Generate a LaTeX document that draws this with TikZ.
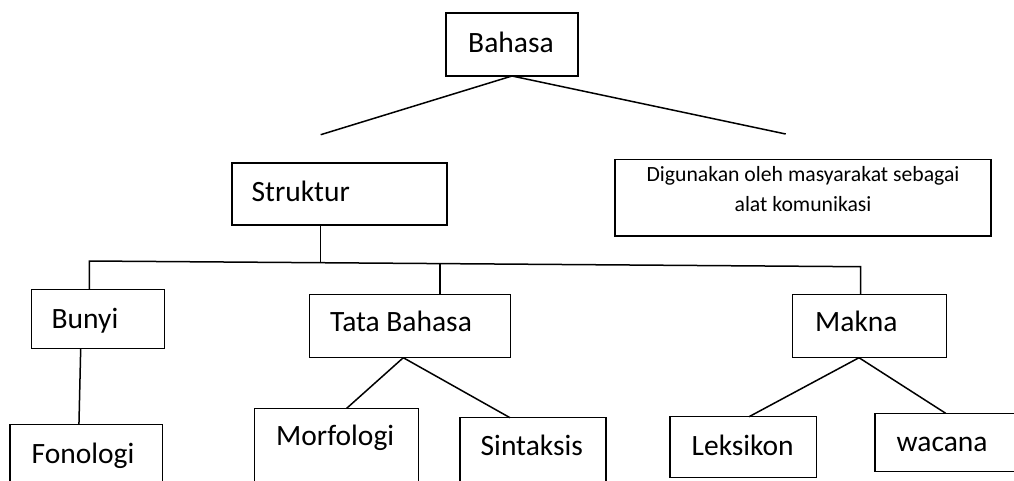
\documentclass[tikz,border=0pt]{standalone}
\usepackage{fontspec}
\setmainfont{Carlito}
\begin{document}
\begin{tikzpicture}[x=1pt,y=-1pt,
  box/.style={draw=black, line width=1.5pt, rectangle, anchor=north west, inner sep=0pt, outer sep=0pt},
  lbl/.style={anchor=base west, inner sep=0pt, font=\fontsize{29.5}{35}\selectfont},
  small/.style={anchor=base, inner sep=0pt, font=\fontsize{21.7}{26}\selectfont},
  conn/.style={line width=1.5pt}]
\useasboundingbox (0,0) rectangle (1014,480);
\clip (0,0) rectangle (1014,480);
% boxes
\node[box, minimum width=132pt, minimum height=63pt] (bahasa) at (446,13) {};
\node[box, minimum width=215pt, minimum height=62pt] (struktur) at (232,163) {};
\node[box, minimum width=376pt, minimum height=76.5pt] (digunakan) at (615,159.5) {};
\node[box, minimum width=132.6pt, minimum height=59pt] (bunyi) at (31.7,289.3) {};
\node[box, minimum width=152.3pt, minimum height=80pt] (fonologi) at (10,424.3) {};
\node[box, minimum width=201pt, minimum height=63.4pt] (tata) at (309.3,294.3) {};
\node[box, minimum width=164.4pt, minimum height=80pt] (morfologi) at (254.3,408.3) {};
\node[box, minimum width=146pt, minimum height=80pt] (sintaksis) at (460,417.7) {};
\node[box, minimum width=154pt, minimum height=63.4pt] (makna) at (792.7,294.3) {};
\node[box, minimum width=146.7pt, minimum height=61pt] (leksikon) at (670,416.7) {};
\node[box, minimum width=160pt, minimum height=58.4pt] (wacana) at (875,413.3) {};
% texts
\node[lbl] (tbahasa) at (468,52) {Bahasa};
\node[lbl] (tstruktur) at (251.5,201.7) {Struktur};
\node[small] (tdig1) at (803,181.7) {Digunakan oleh masyarakat sebagai};
\node[small] (tdig2) at (803,211.2) {alat komunikasi};
\node[lbl] (tbunyi) at (51.5,328.3) {Bunyi};
\node[lbl] (tfonologi) at (31.5,463) {Fonologi};
\node[lbl] (ttata) at (330,331.7) {Tata Bahasa};
\node[lbl] (tmorfologi) at (276,445) {Morfologi};
\node[lbl] (tsintaksis) at (480.5,455) {Sintaksis};
\node[lbl] (tmakna) at (815,331.7) {Makna};
\node[lbl] (tleksikon) at (691.5,455) {Leksikon};
\node[lbl] (twacana) at (896.5,451.7) {wacana};
% free ends and junctions
\coordinate (bl) at (320.7,134.7);
\coordinate (br) at (785.7,134);
\coordinate (j1) at (320.7,261.7);
\coordinate (hl) at (89.3,261);
\coordinate (j2) at (440,264);
\coordinate (hr) at (860.5,266.7);
% connectors
\draw[conn] (bahasa.south) -- (bl);
\draw[conn] (bahasa.south) -- (br);
\draw[conn] ([xshift=-18.8pt]struktur.south) -- (j1);
\draw[conn] (hl |- bunyi.north) -- (hl) -- (hr) -- (hr |- makna.north);
\draw[conn] (j2) -- (j2 |- tata.north);
\draw[conn] ([xshift=-17.3pt]bunyi.south) -- ([xshift=-7.2pt]fonologi.north);
\draw[conn] ([xshift=-6.5pt]tata.south) -- ([xshift=10.2pt]morfologi.north);
\draw[conn] ([xshift=-6.5pt]tata.south) -- ([xshift=-23pt]sintaksis.north);
\draw[conn] ([xshift=-10.7pt]makna.south) -- ([xshift=5.7pt]leksikon.north);
\draw[conn] ([xshift=-10.7pt]makna.south) -- ([xshift=-9.3pt]wacana.north);
\end{tikzpicture}
\end{document}
